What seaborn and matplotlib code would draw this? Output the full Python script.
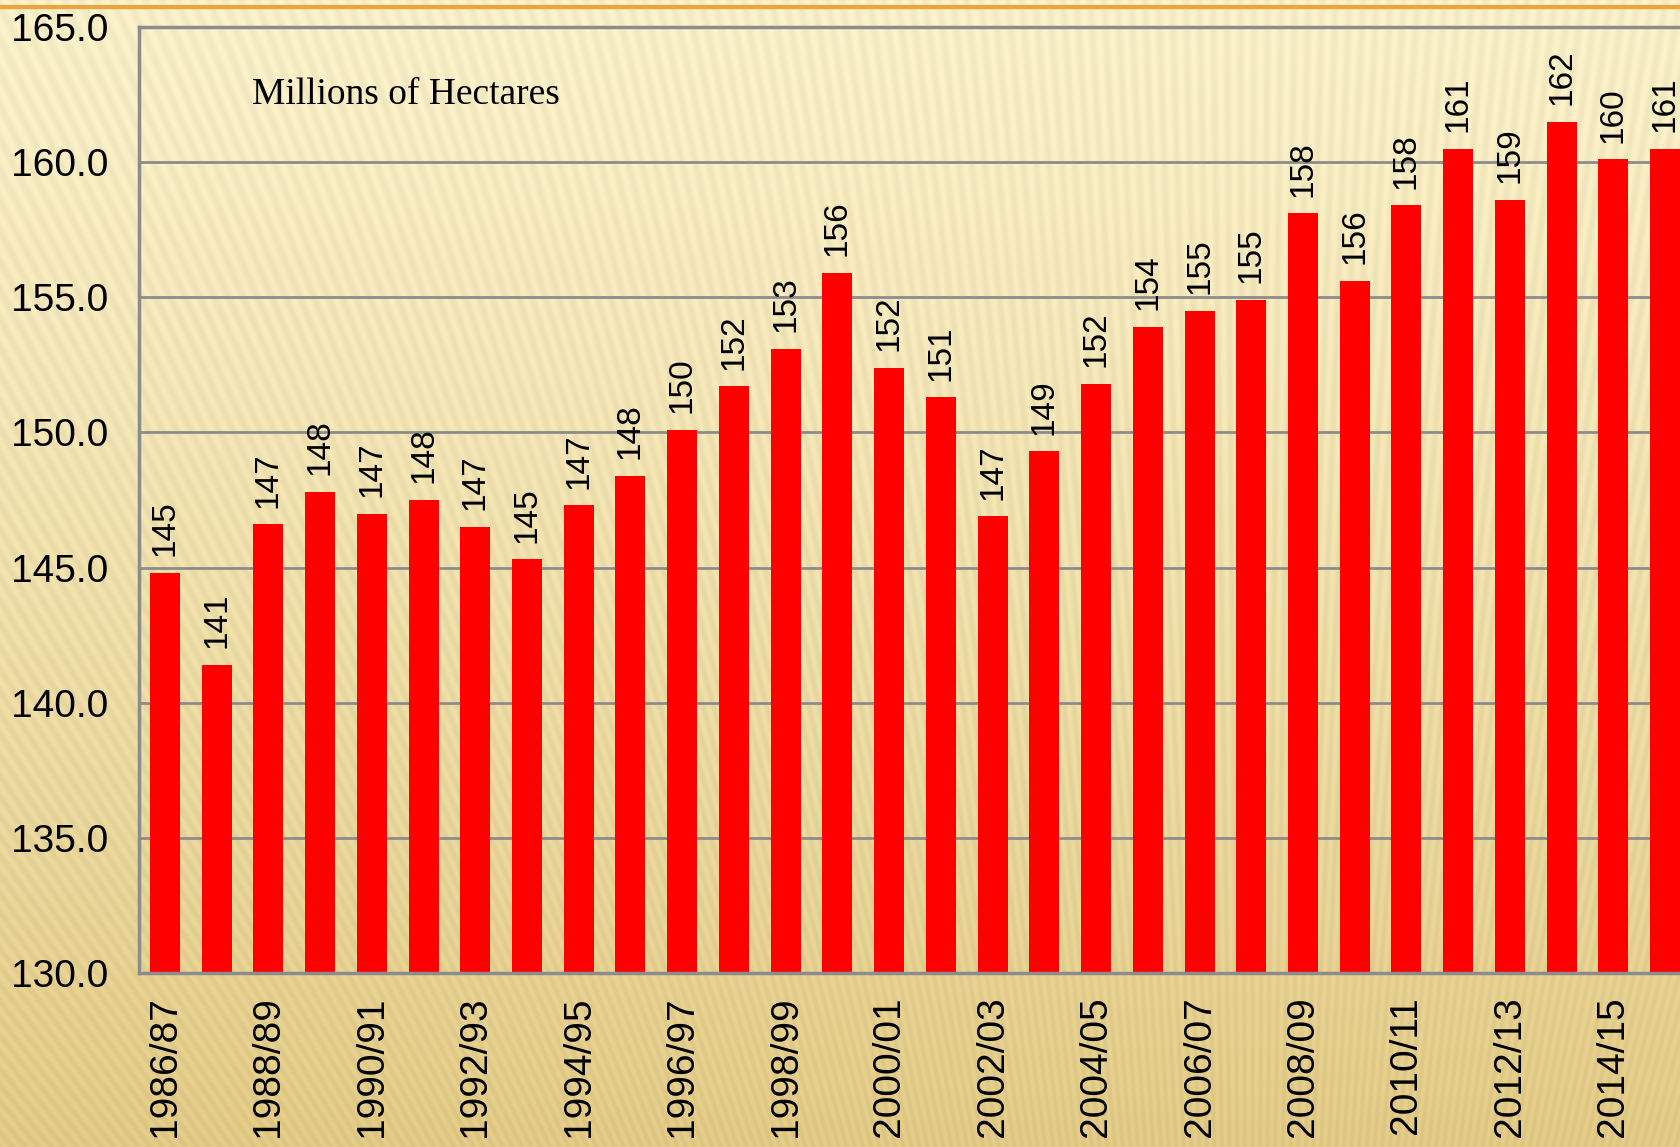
import numpy as np
import pandas as pd
import matplotlib
matplotlib.use("Agg")
import matplotlib.pyplot as plt
import seaborn as sns
from matplotlib.lines import Line2D

# crop years (marketing years)
seasons = ["1986/87", "1987/88", "1988/89", "1989/90", "1990/91", "1991/92",
           "1992/93", "1993/94", "1994/95", "1995/96", "1996/97", "1997/98",
           "1998/99", "1999/00", "2000/01", "2001/02", "2002/03", "2003/04",
           "2004/05", "2005/06", "2006/07", "2007/08", "2008/09", "2009/10",
           "2010/11", "2011/12", "2012/13", "2013/14", "2014/15", "2015/16"]

# harvested area, millions of hectares
area = [144.8, 141.4, 146.6, 147.8, 147.0, 147.5, 146.5, 145.3, 147.3, 148.4,
        150.1, 151.7, 153.1, 155.9, 152.4, 151.3, 146.9, 149.3, 151.8, 153.9,
        154.5, 154.9, 158.1, 155.6, 158.4, 160.5, 158.6, 161.5, 160.1, 160.5]

bar_labels = ["145", "141", "147", "148", "147", "148", "147", "145", "147", "148",
              "150", "152", "153", "156", "152", "151", "147", "149", "152", "154",
              "155", "155", "158", "156", "158", "161", "159", "162", "160", "161"]

y_ticks = [130, 135, 140, 145, 150, 155, 160, 165]

sns.set_style("white")
plt.rcParams["font.family"] = ["Liberation Sans", "DejaVu Sans"]
plt.rcParams["text.color"] = "black"
plt.rcParams["xtick.color"] = "black"
plt.rcParams["ytick.color"] = "black"

fig = plt.figure(figsize=(16.8, 11.47), dpi=100)

# beige slide background with faint fanned stripes
bg = fig.add_axes([0, 0, 1, 1], zorder=-10)
h, w = 1147, 1680
yy, xx = np.mgrid[0:h, 0:w]
t = (yy / h)[..., None]
top = np.array([254, 244, 204]) / 255
bot = np.array([230, 206, 136]) / 255
grad = top + (bot - top) * t ** 1.2
ang = np.arctan2(xx - 1250, 2600 - yy)
stripes = 0.5 + 0.5 * np.sin(ang * 1200)
img = np.clip(grad * (1 - 0.045 * stripes[..., None]), 0, 1)
bg.imshow(img, aspect="auto", extent=[0, 1, 0, 1])
bg.axis("off")

fig.add_artist(Line2D([0, 1], [1 - 7 / 1147] * 2, color="#E9A43C", lw=3,
                      transform=fig.transFigure))

ax = fig.add_axes([139 / 1680, 1 - 973 / 1147, 1552 / 1680, 946 / 1147])
ax.patch.set_alpha(0)

df = pd.DataFrame({"season": seasons, "area": area})
sns.barplot(data=df, x="season", y="area", color="#FF0000", saturation=1,
            width=0.58, linewidth=0, ax=ax)
ax.bar_label(ax.containers[0], labels=bar_labels, rotation=90, padding=12,
             fontsize=24, color="black")

ax.set_ylim(130, 165)
ax.set_xlim(-0.5, 29.5)
ax.set_yticks(y_ticks)
ax.set_yticklabels([f"{v:.1f}" for v in y_ticks])
ax.yaxis.grid(True, color="#8c8c8c", lw=2)
ax.set_axisbelow(True)

for side in ["left", "bottom", "top"]:
    ax.spines[side].set_color("#8c8c8c")
    ax.spines[side].set_linewidth(2.5)
ax.spines["right"].set_visible(False)

ax.set_xticks(range(0, 30, 2))
ax.set_xticklabels(seasons[::2], rotation=90)
ax.set_xticks(np.arange(-0.5, 30.0, 1), minor=True)
ax.tick_params(axis="x", which="major", length=0, pad=17, labelsize=28)
ax.tick_params(axis="x", which="minor", length=10, width=2, color="#8c8c8c")
ax.tick_params(axis="y", length=0, pad=22, labelsize=28)
ax.set_xlabel("")
ax.set_ylabel("")

ax.text(0.073, 0.928, "Millions of Hectares", transform=ax.transAxes,
        family=["Liberation Serif"], fontsize=27, va="center")

fig.savefig("out.png", dpi=100)
